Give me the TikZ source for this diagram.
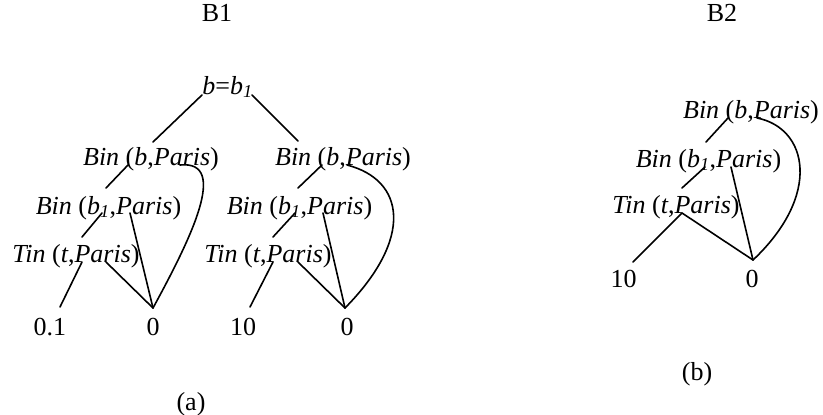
\documentclass[tikz,border=0pt]{standalone}
\usepackage{fontspec}
\setmainfont{Liberation Serif}
\newcommand{\pred}[3]{\textit{#1} (\textit{#2},\textit{#3})}
\begin{document}
\begin{tikzpicture}[x=1pt,y=-1pt,
  txt/.style={font=\fontsize{26}{30}\selectfont, inner sep=0pt, anchor=base},
  edge/.style={line width=1.6pt, line cap=round, line join=round}]
\useasboundingbox (0,0) rectangle (823,415);

% captions
\node[txt] (B1) at (217,21) {B1};
\node[txt] (B2) at (722,21) {B2};
\node[txt] (capa) at (191,410) {(a)};
\node[txt] (capb) at (697,380) {(b)};

% ---- tree B1 ----
\node[txt] (root) at (227.5,94) {\textit{b}=\textit{b}\textsubscript{\itshape 1}};
\node[txt] (lb)  at (151,165) {\pred{Bin}{b}{Paris}};
\node[txt] (rb)  at (343,165) {\pred{Bin}{b}{Paris}};
\node[txt] (lb1) at (108.5,214) {\pred{Bin}{b\textsubscript{1}}{Paris}};
\node[txt] (rb1) at (299.5,214) {\pred{Bin}{b\textsubscript{1}}{Paris}};
\node[txt] (lt)  at (76,262) {\pred{Tin}{t}{Paris}};
\node[txt] (rt)  at (268,262) {\pred{Tin}{t}{Paris}};
\node[txt] (v01) at (50,335) {0.1};
\node[txt] (lz)  at (153,335) {0};
\node[txt] (v10) at (243,335) {10};
\node[txt] (rz)  at (347,335) {0};

% attach points
\coordinate (rootL) at (202,95);   \coordinate (rootR) at (252,95);
\coordinate (lbTop) at (153,142);  \coordinate (rbTop) at (298,141);
\coordinate (lbA) at (128,165);    \coordinate (lbB) at (180,165);
\coordinate (rbA) at (322,165);    \coordinate (rbB) at (347,165);
\coordinate (lb1Top) at (106,188); \coordinate (rb1Top) at (298,188);
\coordinate (lb1A) at (102,213);   \coordinate (lb1B) at (130,213);
\coordinate (rb1A) at (295,213);   \coordinate (rb1B) at (323,213);
\coordinate (ltTop) at (82,237);   \coordinate (rtTop) at (273,237);
\coordinate (ltA) at (82,262);     \coordinate (ltB) at (106,262);
\coordinate (rtA) at (273,262);    \coordinate (rtB) at (298,262);
\coordinate (v01Top) at (60,307);  \coordinate (lzTop) at (153,308);
\coordinate (v10Top) at (250,307); \coordinate (rzTop) at (345,308);

\draw[edge] (rootL) -- (lbTop);
\draw[edge] (rootR) -- (rbTop);
\draw[edge] (lbA) -- (lb1Top);
\draw[edge] (lbB) .. controls (230,160) and (190,240) .. (lzTop);
\draw[edge] (lb1A) -- (ltTop);
\draw[edge] (lb1B) -- (lzTop);
\draw[edge] (ltA) -- (v01Top);
\draw[edge] (ltB) -- (lzTop);
\draw[edge] (rbA) -- (rb1Top);
\draw[edge] (rbB) .. controls (405,180) and (414,238) .. (rzTop);
\draw[edge] (rb1A) -- (rtTop);
\draw[edge] (rb1B) -- (rzTop);
\draw[edge] (rtA) -- (v10Top);
\draw[edge] (rtB) -- (rzTop);

% ---- tree B2 ----
\node[txt] (sb)  at (751,118) {\pred{Bin}{b}{Paris}};
\node[txt] (sb1) at (708.5,167) {\pred{Bin}{b\textsubscript{1}}{Paris}};
\node[txt] (st)  at (676,213) {\pred{Tin}{t}{Paris}};
\node[txt] (s10) at (623.5,287) {10};
\node[txt] (sz)  at (752,287) {0};

\coordinate (sbA) at (728,118);    \coordinate (sbB) at (757,118);
\coordinate (sb1Top) at (706,142);
\coordinate (sb1A) at (705,167);   \coordinate (sb1B) at (731,167);
\coordinate (stTop) at (682,188);
\coordinate (stA) at (682,213);
\coordinate (s10Top) at (633,262); \coordinate (szTop) at (753,260);

\draw[edge] (sbA) -- (sb1Top);
\draw[edge] (sbB) .. controls (808,128) and (822,195) .. (szTop);
\draw[edge] (sb1A) -- (stTop);
\draw[edge] (sb1B) -- (szTop);
\draw[edge] (stA) -- (s10Top);
\draw[edge] (stA) -- (szTop);
\end{tikzpicture}
\end{document}
